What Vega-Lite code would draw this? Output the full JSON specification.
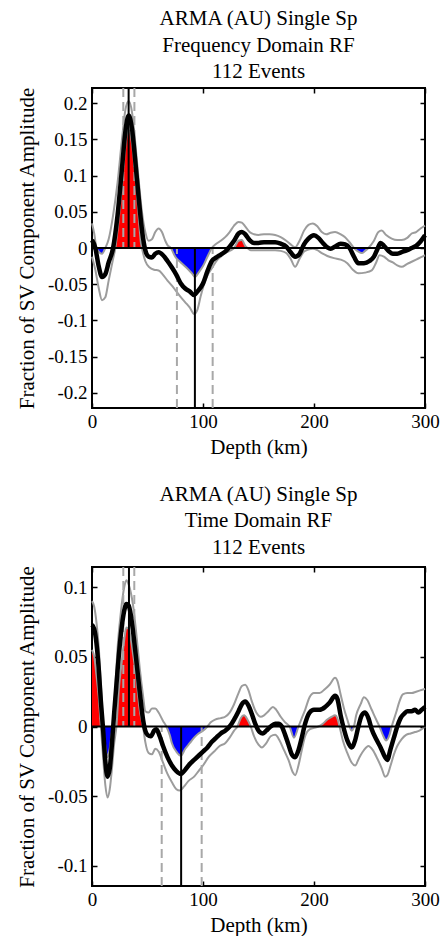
{
"$schema": "https://vega.github.io/schema/vega-lite/v6.json",
"padding": {"left": 15, "top": 7, "right": 0, "bottom": 0},
"spacing": 24,
"config": {
  "font": "Liberation Serif, Times New Roman, DejaVu Serif, serif",
  "view": {"stroke": "black", "strokeWidth": 2},
  "axis": {"domain": false, "grid": false, "ticks": true, "tickSize": -5, "tickColor": "black", "tickWidth": 1.5, "labelFont": "Liberation Serif, Times New Roman, DejaVu Serif, serif", "labelFontSize": 19, "labelColor": "black", "titleFont": "Liberation Serif, Times New Roman, DejaVu Serif, serif", "titleFontSize": 21, "titleFontWeight": "normal", "titleColor": "black", "labelPadding": 10, "labelFlush": false, "labelOverlap": false, "labelBound": false},
  "title": {"font": "Liberation Serif, Times New Roman, DejaVu Serif, serif", "fontSize": 21, "fontWeight": "normal", "color": "black", "lineHeight": 26.5, "offset": 4}
},
"datasets": {
"Fm": [{"d":0,"v":0.011},{"d":3,"v":0.0},{"d":6,"v":-0.025},{"d":9,"v":-0.04},{"d":12,"v":-0.036},{"d":15,"v":-0.02},{"d":19,"v":0.0},{"d":23,"v":0.045},{"d":27,"v":0.11},{"d":30,"v":0.16},{"d":33,"v":0.183},{"d":36,"v":0.165},{"d":39,"v":0.12},{"d":42,"v":0.07},{"d":45,"v":0.025},{"d":48,"v":-0.003},{"d":51,"v":-0.012},{"d":54,"v":-0.013},{"d":57,"v":-0.008},{"d":60,"v":-0.006},{"d":64,"v":-0.01},{"d":68,"v":-0.018},{"d":72,"v":-0.027},{"d":76,"v":-0.037},{"d":80,"v":-0.049},{"d":84,"v":-0.056},{"d":88,"v":-0.06},{"d":92,"v":-0.065},{"d":95,"v":-0.06},{"d":100,"v":-0.049},{"d":104,"v":-0.032},{"d":108,"v":-0.018},{"d":112,"v":-0.013},{"d":116,"v":-0.009},{"d":120,"v":-0.005},{"d":124,"v":0.002},{"d":128,"v":0.01},{"d":132,"v":0.02},{"d":135,"v":0.022},{"d":138,"v":0.019},{"d":142,"v":0.011},{"d":146,"v":0.007},{"d":150,"v":0.007},{"d":155,"v":0.008},{"d":160,"v":0.008},{"d":165,"v":0.008},{"d":170,"v":0.006},{"d":175,"v":0.002},{"d":179,"v":-0.006},{"d":183,"v":-0.012},{"d":187,"v":-0.008},{"d":191,"v":0.005},{"d":195,"v":0.013},{"d":200,"v":0.0175},{"d":204,"v":0.014},{"d":208,"v":0.007},{"d":212,"v":0.001},{"d":215,"v":-0.001},{"d":219,"v":0.002},{"d":224,"v":0.006},{"d":228,"v":0.005},{"d":232,"v":0.0},{"d":236,"v":-0.012},{"d":240,"v":-0.021},{"d":245,"v":-0.021},{"d":250,"v":-0.018},{"d":254,"v":-0.012},{"d":257,"v":-0.002},{"d":260,"v":0.007},{"d":263,"v":0.003},{"d":267,"v":-0.004},{"d":271,"v":-0.008},{"d":275,"v":-0.008},{"d":280,"v":-0.005},{"d":284,"v":-0.003},{"d":288,"v":0.0},{"d":292,"v":0.003},{"d":296,"v":0.009},{"d":300,"v":0.0175}],
"Fu": [{"d":0,"v":0.034},{"d":2,"v":0.02},{"d":4,"v":0.0},{"d":6,"v":-0.005},{"d":9,"v":-0.008},{"d":12,"v":0.0},{"d":15,"v":0.012},{"d":19,"v":0.045},{"d":23,"v":0.09},{"d":27,"v":0.15},{"d":30,"v":0.19},{"d":33,"v":0.203},{"d":36,"v":0.188},{"d":39,"v":0.145},{"d":42,"v":0.095},{"d":45,"v":0.05},{"d":48,"v":0.022},{"d":51,"v":0.01},{"d":54,"v":0.012},{"d":57,"v":0.022},{"d":60,"v":0.027},{"d":63,"v":0.022},{"d":66,"v":0.01},{"d":68,"v":0.004},{"d":71,"v":0.0},{"d":75,"v":-0.012},{"d":80,"v":-0.02},{"d":85,"v":-0.027},{"d":90,"v":-0.035},{"d":93,"v":-0.04},{"d":96,"v":-0.034},{"d":100,"v":-0.025},{"d":104,"v":-0.012},{"d":108,"v":0.0},{"d":112,"v":0.006},{"d":116,"v":0.01},{"d":120,"v":0.015},{"d":124,"v":0.022},{"d":128,"v":0.031},{"d":132,"v":0.036},{"d":135,"v":0.035},{"d":138,"v":0.03},{"d":142,"v":0.022},{"d":146,"v":0.019},{"d":150,"v":0.018},{"d":155,"v":0.019},{"d":160,"v":0.019},{"d":165,"v":0.018},{"d":170,"v":0.015},{"d":175,"v":0.01},{"d":179,"v":0.005},{"d":183,"v":0.001},{"d":187,"v":0.01},{"d":191,"v":0.024},{"d":195,"v":0.032},{"d":199,"v":0.034},{"d":203,"v":0.03},{"d":207,"v":0.022},{"d":211,"v":0.019},{"d":215,"v":0.021},{"d":219,"v":0.022},{"d":224,"v":0.019},{"d":228,"v":0.015},{"d":232,"v":0.008},{"d":236,"v":0.0},{"d":240,"v":-0.005},{"d":243,"v":-0.007},{"d":246,"v":-0.004},{"d":249,"v":0.0},{"d":254,"v":0.01},{"d":258,"v":0.022},{"d":261,"v":0.024},{"d":265,"v":0.018},{"d":270,"v":0.013},{"d":275,"v":0.011},{"d":279,"v":0.011},{"d":284,"v":0.014},{"d":288,"v":0.02},{"d":292,"v":0.022},{"d":296,"v":0.027},{"d":300,"v":0.031}],
"Fl": [{"d":0,"v":-0.012},{"d":3,"v":-0.03},{"d":6,"v":-0.055},{"d":9,"v":-0.072},{"d":12,"v":-0.068},{"d":15,"v":-0.045},{"d":19,"v":-0.015},{"d":21,"v":0.0},{"d":23,"v":0.025},{"d":27,"v":0.085},{"d":30,"v":0.14},{"d":33,"v":0.163},{"d":36,"v":0.145},{"d":39,"v":0.1},{"d":42,"v":0.045},{"d":44,"v":0.008},{"d":45,"v":0.0},{"d":48,"v":-0.018},{"d":52,"v":-0.027},{"d":56,"v":-0.03},{"d":60,"v":-0.031},{"d":64,"v":-0.037},{"d":68,"v":-0.045},{"d":72,"v":-0.052},{"d":76,"v":-0.06},{"d":80,"v":-0.068},{"d":84,"v":-0.075},{"d":88,"v":-0.082},{"d":92,"v":-0.091},{"d":95,"v":-0.085},{"d":98,"v":-0.066},{"d":101,"v":-0.05},{"d":104,"v":-0.038},{"d":108,"v":-0.028},{"d":112,"v":-0.018},{"d":116,"v":-0.012},{"d":120,"v":-0.007},{"d":124,"v":-0.004},{"d":128,"v":0.0},{"d":132,"v":0.01},{"d":135,"v":0.011},{"d":138,"v":0.003},{"d":140,"v":0.0},{"d":143,"v":-0.003},{"d":148,"v":-0.003},{"d":154,"v":-0.003},{"d":160,"v":-0.003},{"d":165,"v":-0.003},{"d":170,"v":-0.004},{"d":175,"v":-0.007},{"d":179,"v":-0.015},{"d":183,"v":-0.026},{"d":187,"v":-0.015},{"d":191,"v":-0.005},{"d":195,"v":-0.002},{"d":199,"v":-0.001},{"d":203,"v":-0.003},{"d":207,"v":-0.007},{"d":212,"v":-0.011},{"d":218,"v":-0.014},{"d":224,"v":-0.016},{"d":230,"v":-0.021},{"d":235,"v":-0.03},{"d":240,"v":-0.035},{"d":246,"v":-0.034},{"d":252,"v":-0.031},{"d":256,"v":-0.02},{"d":259,"v":-0.01},{"d":263,"v":-0.012},{"d":267,"v":-0.017},{"d":271,"v":-0.02},{"d":275,"v":-0.024},{"d":279,"v":-0.026},{"d":284,"v":-0.022},{"d":288,"v":-0.019},{"d":292,"v":-0.016},{"d":296,"v":-0.013},{"d":300,"v":-0.01}],
"Fr": [{"d":0,"v":0},{"d":21,"v":0},{"d":23,"v":0.025},{"d":27,"v":0.085},{"d":30,"v":0.14},{"d":33,"v":0.163},{"d":36,"v":0.145},{"d":39,"v":0.1},{"d":42,"v":0.045},{"d":44,"v":0.008},{"d":45,"v":0},{"d":128,"v":0},{"d":132,"v":0.01},{"d":135,"v":0.011},{"d":138,"v":0.003},{"d":140,"v":0},{"d":300,"v":0}],
"Fb": [{"d":0,"v":0},{"d":4,"v":0},{"d":6,"v":-0.005},{"d":9,"v":-0.008},{"d":12,"v":0},{"d":71,"v":0},{"d":75,"v":-0.012},{"d":80,"v":-0.02},{"d":85,"v":-0.027},{"d":90,"v":-0.035},{"d":93,"v":-0.04},{"d":96,"v":-0.034},{"d":100,"v":-0.025},{"d":104,"v":-0.012},{"d":108,"v":0},{"d":236,"v":0},{"d":240,"v":-0.005},{"d":243,"v":-0.007},{"d":246,"v":-0.004},{"d":249,"v":0},{"d":300,"v":0}],
"FR": [{"d":33,"e":0.221,"k":"s"},{"d":92.7,"e":-0.221,"k":"s"},{"d":28.2,"e":0.221,"k":"d"},{"d":38.2,"e":0.221,"k":"d"},{"d":76.5,"e":-0.221,"k":"d"},{"d":108.7,"e":-0.221,"k":"d"}],
"Tm": [{"d":0,"v":0.073},{"d":2,"v":0.07},{"d":4,"v":0.06},{"d":6,"v":0.042},{"d":8,"v":0.018},{"d":10,"v":-0.002},{"d":12,"v":-0.025},{"d":14,"v":-0.036},{"d":16,"v":-0.03},{"d":18,"v":-0.012},{"d":20,"v":0.01},{"d":23,"v":0.04},{"d":26,"v":0.066},{"d":29,"v":0.083},{"d":31,"v":0.088},{"d":33,"v":0.087},{"d":35,"v":0.08},{"d":37,"v":0.068},{"d":40,"v":0.047},{"d":43,"v":0.025},{"d":46,"v":0.005},{"d":48,"v":-0.003},{"d":50,"v":-0.006},{"d":53,"v":-0.007},{"d":56,"v":-0.003},{"d":58,"v":-0.002},{"d":61,"v":-0.007},{"d":64,"v":-0.014},{"d":68,"v":-0.022},{"d":72,"v":-0.028},{"d":76,"v":-0.032},{"d":80,"v":-0.034},{"d":84,"v":-0.031},{"d":88,"v":-0.027},{"d":92,"v":-0.024},{"d":96,"v":-0.021},{"d":100,"v":-0.018},{"d":104,"v":-0.015},{"d":108,"v":-0.011},{"d":112,"v":-0.008},{"d":116,"v":-0.005},{"d":120,"v":-0.003},{"d":124,"v":0.0},{"d":128,"v":0.005},{"d":132,"v":0.011},{"d":135,"v":0.016},{"d":138,"v":0.018},{"d":141,"v":0.015},{"d":144,"v":0.009},{"d":147,"v":0.002},{"d":151,"v":-0.004},{"d":154,"v":-0.005},{"d":157,"v":-0.003},{"d":161,"v":0.0},{"d":165,"v":0.002},{"d":168,"v":0.002},{"d":171,"v":0.0},{"d":174,"v":-0.006},{"d":177,"v":-0.013},{"d":180,"v":-0.02},{"d":183,"v":-0.022},{"d":186,"v":-0.017},{"d":189,"v":-0.008},{"d":192,"v":0.002},{"d":196,"v":0.01},{"d":200,"v":0.012},{"d":205,"v":0.012},{"d":210,"v":0.014},{"d":214,"v":0.017},{"d":219,"v":0.022},{"d":221,"v":0.02},{"d":224,"v":0.008},{"d":227,"v":-0.002},{"d":230,"v":-0.01},{"d":234,"v":-0.015},{"d":237,"v":-0.01},{"d":240,"v":0.0},{"d":243,"v":0.008},{"d":246,"v":0.01},{"d":249,"v":0.006},{"d":252,"v":-0.002},{"d":256,"v":-0.009},{"d":260,"v":-0.015},{"d":264,"v":-0.022},{"d":266,"v":-0.024},{"d":269,"v":-0.016},{"d":272,"v":-0.008},{"d":275,"v":0.0},{"d":278,"v":0.006},{"d":281,"v":0.009},{"d":284,"v":0.011},{"d":288,"v":0.011},{"d":291,"v":0.012},{"d":294,"v":0.01},{"d":297,"v":0.012},{"d":300,"v":0.014}],
"Tu": [{"d":0,"v":0.09},{"d":2,"v":0.086},{"d":4,"v":0.075},{"d":6,"v":0.058},{"d":8,"v":0.03},{"d":10,"v":0.0},{"d":12,"v":-0.014},{"d":14,"v":-0.022},{"d":16,"v":-0.016},{"d":18,"v":-0.004},{"d":19,"v":0.0},{"d":20,"v":0.012},{"d":23,"v":0.056},{"d":26,"v":0.082},{"d":29,"v":0.1},{"d":31,"v":0.105},{"d":33,"v":0.102},{"d":35,"v":0.096},{"d":37,"v":0.087},{"d":40,"v":0.066},{"d":43,"v":0.042},{"d":46,"v":0.022},{"d":48,"v":0.011},{"d":51,"v":0.01},{"d":54,"v":0.013},{"d":57,"v":0.013},{"d":60,"v":0.01},{"d":64,"v":0.004},{"d":67,"v":0.0},{"d":70,"v":-0.006},{"d":72,"v":-0.012},{"d":76,"v":-0.018},{"d":80,"v":-0.021},{"d":84,"v":-0.016},{"d":88,"v":-0.012},{"d":92,"v":-0.008},{"d":96,"v":-0.005},{"d":100,"v":-0.003},{"d":104,"v":0.0},{"d":107,"v":0.003},{"d":111,"v":0.005},{"d":116,"v":0.006},{"d":120,"v":0.007},{"d":124,"v":0.01},{"d":128,"v":0.016},{"d":132,"v":0.024},{"d":135,"v":0.029},{"d":138,"v":0.03},{"d":141,"v":0.026},{"d":144,"v":0.018},{"d":148,"v":0.01},{"d":152,"v":0.007},{"d":155,"v":0.008},{"d":159,"v":0.011},{"d":163,"v":0.014},{"d":166,"v":0.012},{"d":170,"v":0.007},{"d":174,"v":0.003},{"d":178,"v":0.0},{"d":182,"v":-0.008},{"d":186,"v":0.0},{"d":189,"v":0.006},{"d":192,"v":0.012},{"d":196,"v":0.021},{"d":200,"v":0.024},{"d":205,"v":0.024},{"d":210,"v":0.027},{"d":214,"v":0.03},{"d":219,"v":0.035},{"d":221,"v":0.033},{"d":224,"v":0.023},{"d":227,"v":0.013},{"d":230,"v":0.005},{"d":232,"v":0.0},{"d":234,"v":-0.003},{"d":236,"v":0.0},{"d":238,"v":0.008},{"d":242,"v":0.016},{"d":245,"v":0.021},{"d":248,"v":0.019},{"d":252,"v":0.012},{"d":256,"v":0.005},{"d":259,"v":0.0},{"d":262,"v":-0.006},{"d":265,"v":-0.01},{"d":268,"v":-0.006},{"d":270,"v":0.0},{"d":274,"v":0.01},{"d":277,"v":0.018},{"d":280,"v":0.023},{"d":284,"v":0.024},{"d":288,"v":0.024},{"d":292,"v":0.025},{"d":296,"v":0.026},{"d":300,"v":0.027}],
"Tl": [{"d":0,"v":0.055},{"d":2,"v":0.05},{"d":4,"v":0.037},{"d":6,"v":0.022},{"d":8,"v":0.0},{"d":10,"v":-0.022},{"d":12,"v":-0.042},{"d":14,"v":-0.051},{"d":16,"v":-0.045},{"d":18,"v":-0.03},{"d":20,"v":-0.012},{"d":22,"v":0.0},{"d":24,"v":0.025},{"d":27,"v":0.048},{"d":29,"v":0.062},{"d":31,"v":0.071},{"d":33,"v":0.07},{"d":35,"v":0.063},{"d":37,"v":0.052},{"d":40,"v":0.035},{"d":43,"v":0.012},{"d":46,"v":0.0},{"d":48,"v":-0.011},{"d":51,"v":-0.019},{"d":54,"v":-0.02},{"d":57,"v":-0.016},{"d":60,"v":-0.018},{"d":64,"v":-0.026},{"d":68,"v":-0.034},{"d":72,"v":-0.04},{"d":76,"v":-0.045},{"d":79,"v":-0.046},{"d":83,"v":-0.043},{"d":87,"v":-0.039},{"d":92,"v":-0.036},{"d":96,"v":-0.032},{"d":100,"v":-0.028},{"d":105,"v":-0.022},{"d":110,"v":-0.018},{"d":115,"v":-0.014},{"d":120,"v":-0.012},{"d":124,"v":-0.008},{"d":128,"v":-0.003},{"d":131,"v":0.0},{"d":134,"v":0.006},{"d":137,"v":0.008},{"d":140,"v":0.005},{"d":143,"v":0.0},{"d":146,"v":-0.007},{"d":150,"v":-0.013},{"d":153,"v":-0.015},{"d":157,"v":-0.012},{"d":161,"v":-0.007},{"d":165,"v":-0.006},{"d":169,"v":-0.01},{"d":173,"v":-0.017},{"d":177,"v":-0.024},{"d":181,"v":-0.033},{"d":183,"v":-0.035},{"d":186,"v":-0.028},{"d":189,"v":-0.017},{"d":192,"v":-0.007},{"d":196,"v":-0.002},{"d":200,"v":-0.001},{"d":204,"v":0.0},{"d":208,"v":0.002},{"d":212,"v":0.005},{"d":216,"v":0.007},{"d":219,"v":0.008},{"d":221,"v":0.006},{"d":223,"v":0.0},{"d":226,"v":-0.01},{"d":230,"v":-0.019},{"d":234,"v":-0.026},{"d":237,"v":-0.028},{"d":241,"v":-0.022},{"d":245,"v":-0.017},{"d":249,"v":-0.014},{"d":253,"v":-0.017},{"d":257,"v":-0.023},{"d":261,"v":-0.03},{"d":264,"v":-0.036},{"d":266,"v":-0.035},{"d":269,"v":-0.028},{"d":272,"v":-0.02},{"d":275,"v":-0.014},{"d":279,"v":-0.009},{"d":283,"v":-0.006},{"d":287,"v":-0.005},{"d":291,"v":-0.004},{"d":295,"v":-0.003},{"d":300,"v":0.0}],
"Tr": [{"d":0,"v":0.055},{"d":2,"v":0.05},{"d":4,"v":0.037},{"d":6,"v":0.022},{"d":8,"v":0},{"d":22,"v":0},{"d":24,"v":0.025},{"d":27,"v":0.048},{"d":29,"v":0.062},{"d":31,"v":0.071},{"d":33,"v":0.07},{"d":35,"v":0.063},{"d":37,"v":0.052},{"d":40,"v":0.035},{"d":43,"v":0.012},{"d":46,"v":0},{"d":131,"v":0},{"d":134,"v":0.006},{"d":137,"v":0.008},{"d":140,"v":0.005},{"d":143,"v":0},{"d":204,"v":0},{"d":208,"v":0.002},{"d":212,"v":0.005},{"d":216,"v":0.007},{"d":219,"v":0.008},{"d":221,"v":0.006},{"d":223,"v":0},{"d":300,"v":0}],
"Tb": [{"d":0,"v":0},{"d":10,"v":0},{"d":12,"v":-0.014},{"d":14,"v":-0.022},{"d":16,"v":-0.016},{"d":18,"v":-0.004},{"d":19,"v":0},{"d":67,"v":0},{"d":70,"v":-0.006},{"d":72,"v":-0.012},{"d":76,"v":-0.018},{"d":80,"v":-0.021},{"d":84,"v":-0.016},{"d":88,"v":-0.012},{"d":92,"v":-0.008},{"d":96,"v":-0.005},{"d":100,"v":-0.003},{"d":104,"v":0},{"d":178,"v":0},{"d":182,"v":-0.008},{"d":186,"v":0},{"d":232,"v":0},{"d":234,"v":-0.003},{"d":236,"v":0},{"d":259,"v":0},{"d":262,"v":-0.006},{"d":265,"v":-0.01},{"d":268,"v":-0.006},{"d":270,"v":0},{"d":300,"v":0}],
"TR": [{"d":33.3,"e":0.1145,"k":"s"},{"d":80.3,"e":-0.1145,"k":"s"},{"d":28.2,"e":0.1145,"k":"d"},{"d":38.1,"e":0.1145,"k":"d"},{"d":62.8,"e":-0.1145,"k":"d"},{"d":98.8,"e":-0.1145,"k":"d"}]
},
"vconcat": [
{
  "title": {"text": ["ARMA (AU) Single Sp", "Frequency Domain RF", "112 Events"], "offset": 4, "font": "Liberation Serif, Times New Roman, DejaVu Serif, serif"},
  "width": 333, "height": 320,
  "resolve": {"axis": {"x": "independent", "y": "independent"}},
  "layer": [
    {"data": {"name": "Fr"}, "mark": {"type": "area", "color": "#ff0000", "interpolate": "monotone"},
     "encoding": {"x": {"field": "d", "type": "quantitative", "scale": {"domain": [0, 300], "nice": false, "zero": false}, "axis": {"values": [0, 100, 200, 300], "title": "Depth (km)", "labelPadding": 9, "titlePadding": 5, "labelOverlap": false, "labelExpr": "''+datum.value"}},
                  "y": {"field": "v", "type": "quantitative", "scale": {"domain": [-0.221, 0.221], "nice": false}, "axis": {"values": [-0.2, -0.15, -0.1, -0.05, 0, 0.05, 0.1, 0.15, 0.2], "title": "Fraction of SV Component Amplitude", "titlePadding": 10, "labelOverlap": false, "labelExpr": "''+datum.value"}},
                  "y2": {"datum": 0}}},
    {"data": {"name": "Fm"}, "mark": {"type": "point", "opacity": 0},
     "encoding": {"x": {"field": "d", "type": "quantitative", "axis": {"orient": "top", "values": [0, 100, 200, 300], "labels": false, "title": null}},
                  "y": {"field": "v", "type": "quantitative", "axis": {"orient": "right", "values": [-0.2, -0.15, -0.1, -0.05, 0, 0.05, 0.1, 0.15, 0.2], "labels": false, "title": null}}}},
    {"data": {"name": "Fb"}, "mark": {"type": "area", "color": "#0000ff", "interpolate": "monotone"},
     "encoding": {"x": {"field": "d", "type": "quantitative", "axis": null}, "y": {"field": "v", "type": "quantitative", "axis": null}, "y2": {"datum": 0}}},
    {"data": {"name": "Fu"}, "mark": {"type": "line", "color": "#9c9c9c", "strokeWidth": 2, "interpolate": "monotone"},
     "encoding": {"x": {"field": "d", "type": "quantitative", "axis": null}, "y": {"field": "v", "type": "quantitative", "axis": null}}},
    {"data": {"name": "Fl"}, "mark": {"type": "line", "color": "#9c9c9c", "strokeWidth": 2, "interpolate": "monotone"},
     "encoding": {"x": {"field": "d", "type": "quantitative", "axis": null}, "y": {"field": "v", "type": "quantitative", "axis": null}}},
    {"data": {"name": "FR"}, "transform": [{"filter": "datum.k=='d'"}], "mark": {"type": "rule", "color": "#a8a8a8", "strokeWidth": 2, "strokeDash": [9, 5]},
     "encoding": {"x": {"field": "d", "type": "quantitative", "axis": null}, "y": {"field": "e", "type": "quantitative", "axis": null}, "y2": {"datum": 0}}},
    {"data": {"values": [{"z": 0}]}, "mark": {"type": "rule", "color": "black", "strokeWidth": 2}, "encoding": {"y": {"field": "z", "type": "quantitative", "axis": null}}},
    {"data": {"name": "FR"}, "transform": [{"filter": "datum.k=='s'"}], "mark": {"type": "rule", "color": "black", "strokeWidth": 2},
     "encoding": {"x": {"field": "d", "type": "quantitative", "axis": null}, "y": {"field": "e", "type": "quantitative", "axis": null}, "y2": {"datum": 0}}},
    {"data": {"name": "Fm"}, "mark": {"type": "line", "color": "black", "strokeWidth": 4.5, "interpolate": "monotone"},
     "encoding": {"x": {"field": "d", "type": "quantitative", "axis": null}, "y": {"field": "v", "type": "quantitative", "axis": null}}}
  ]
},
{
  "title": {"text": ["ARMA (AU) Single Sp", "Time Domain RF", "112 Events"], "offset": 7, "font": "Liberation Serif, Times New Roman, DejaVu Serif, serif"},
  "width": 333, "height": 319,
  "resolve": {"axis": {"x": "independent", "y": "independent"}},
  "layer": [
    {"data": {"name": "Tr"}, "mark": {"type": "area", "color": "#ff0000", "interpolate": "monotone"},
     "encoding": {"x": {"field": "d", "type": "quantitative", "scale": {"domain": [0, 300], "nice": false, "zero": false}, "axis": {"values": [0, 100, 200, 300], "title": "Depth (km)", "labelPadding": 9, "titlePadding": 5, "labelOverlap": false, "labelExpr": "''+datum.value"}},
                  "y": {"field": "v", "type": "quantitative", "scale": {"domain": [-0.1145, 0.1145], "nice": false}, "axis": {"values": [-0.1, -0.05, 0, 0.05, 0.1], "title": "Fraction of SV Component Amplitude", "titlePadding": 10, "labelOverlap": false, "labelExpr": "''+datum.value"}},
                  "y2": {"datum": 0}}},
    {"data": {"name": "Tm"}, "mark": {"type": "point", "opacity": 0},
     "encoding": {"x": {"field": "d", "type": "quantitative", "axis": {"orient": "top", "values": [0, 100, 200, 300], "labels": false, "title": null}},
                  "y": {"field": "v", "type": "quantitative", "axis": {"orient": "right", "values": [-0.1, -0.05, 0, 0.05, 0.1], "labels": false, "title": null}}}},
    {"data": {"name": "Tb"}, "mark": {"type": "area", "color": "#0000ff", "interpolate": "monotone"},
     "encoding": {"x": {"field": "d", "type": "quantitative", "axis": null}, "y": {"field": "v", "type": "quantitative", "axis": null}, "y2": {"datum": 0}}},
    {"data": {"name": "Tu"}, "mark": {"type": "line", "color": "#9c9c9c", "strokeWidth": 2, "interpolate": "monotone"},
     "encoding": {"x": {"field": "d", "type": "quantitative", "axis": null}, "y": {"field": "v", "type": "quantitative", "axis": null}}},
    {"data": {"name": "Tl"}, "mark": {"type": "line", "color": "#9c9c9c", "strokeWidth": 2, "interpolate": "monotone"},
     "encoding": {"x": {"field": "d", "type": "quantitative", "axis": null}, "y": {"field": "v", "type": "quantitative", "axis": null}}},
    {"data": {"name": "TR"}, "transform": [{"filter": "datum.k=='d'"}], "mark": {"type": "rule", "color": "#a8a8a8", "strokeWidth": 2, "strokeDash": [9, 5]},
     "encoding": {"x": {"field": "d", "type": "quantitative", "axis": null}, "y": {"field": "e", "type": "quantitative", "axis": null}, "y2": {"datum": 0}}},
    {"data": {"values": [{"z": 0}]}, "mark": {"type": "rule", "color": "black", "strokeWidth": 2}, "encoding": {"y": {"field": "z", "type": "quantitative", "axis": null}}},
    {"data": {"name": "TR"}, "transform": [{"filter": "datum.k=='s'"}], "mark": {"type": "rule", "color": "black", "strokeWidth": 2},
     "encoding": {"x": {"field": "d", "type": "quantitative", "axis": null}, "y": {"field": "e", "type": "quantitative", "axis": null}, "y2": {"datum": 0}}},
    {"data": {"name": "Tm"}, "mark": {"type": "line", "color": "black", "strokeWidth": 4.5, "interpolate": "monotone"},
     "encoding": {"x": {"field": "d", "type": "quantitative", "axis": null}, "y": {"field": "v", "type": "quantitative", "axis": null}}}
  ]
}
]
}
